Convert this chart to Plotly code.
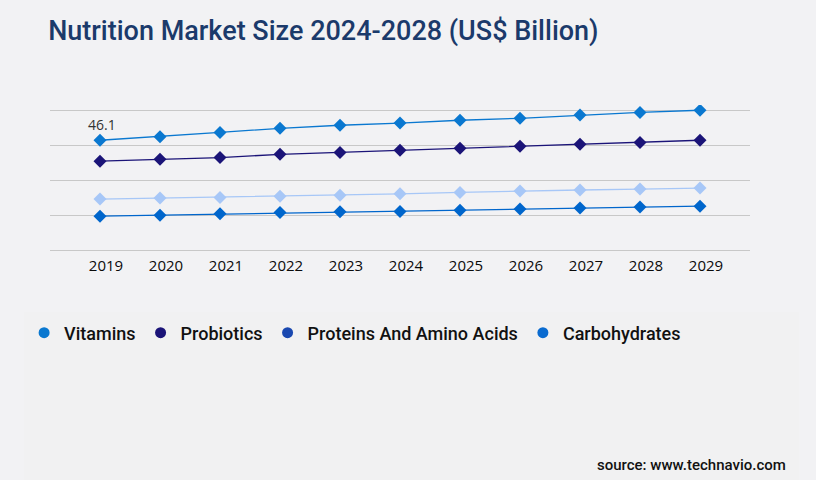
import plotly.graph_objects as go

# data
years = ["2019", "2020", "2021", "2022", "2023", "2024", "2025", "2026", "2027", "2028", "2029"]
vitamins = [46.1, 47.6, 49.4, 51.1, 52.4, 53.3, 54.5, 55.3, 56.7, 57.8, 58.7]
probiotics = [37.3, 38.1, 38.8, 40.2, 41.0, 41.9, 42.7, 43.6, 44.4, 45.2, 46.1]
proteins = [21.4, 21.8, 22.1, 22.6, 23.0, 23.6, 24.2, 24.8, 25.2, 25.6, 26.0]
carbohydrates = [14.2, 14.6, 15.2, 15.7, 16.1, 16.2, 16.7, 17.2, 17.6, 18.1, 18.4]
grid_vals = [0, 14.7, 29.4, 44.1, 58.8]

series = [
    ("Vitamins", vitamins, "#0a78d0", "#0a78d0"),
    ("Probiotics", probiotics, "#1b1478", "#1b1478"),
    ("Proteins And Amino Acids", proteins, "#a7c7f7", "#1a48b0"),
    ("Carbohydrates", carbohydrates, "#0066cc", "#0a6bd0"),
]

fig = go.Figure()

for name, vals, col, legcol in series:
    fig.add_trace(go.Scatter(
        x=years, y=vals, mode="lines+markers", name=name,
        line=dict(color=col, width=1.3),
        marker=dict(symbol="diamond", size=10, color=col),
        showlegend=False,
    ))

# legend-only entries (round markers as in the reference)
for name, vals, col, legcol in series:
    fig.add_trace(go.Scatter(
        x=[None], y=[None], mode="markers", name=name,
        marker=dict(symbol="circle", size=11, color=legcol),
    ))

# label on the first vitamins point (category index 0)
fig.add_annotation(x=0, y=vitamins[0], text=f"{vitamins[0]}", showarrow=False,
                   yshift=16, xshift=2, font=dict(family="Open Sans", size=14, color="#333333"))

fig.add_annotation(text="source: www.technavio.com", xref="paper", yref="paper", x=1.054, y=-1.4,
                   xanchor="right", yanchor="middle", showarrow=False,
                   font=dict(family="Roboto", size=15, color="#111111", weight=500))

fig.add_shape(type="rect", xref="paper", yref="paper", x0=-0.037, x1=1.07, y0=-1.7, y1=-0.38,
              fillcolor="#f1f1f2", line=dict(width=0), layer="below")

fig.update_xaxes(
    type="category", range=[-0.833, 10.833], showgrid=False, zeroline=False,
    showline=False, ticks="", ticklabelstandoff=0, ticklabelshift=6,
    tickfont=dict(family="Open Sans", size=15, color="#0a0a0a", weight=500),
)
fig.update_yaxes(
    range=[-2.1, 60.9], tickvals=grid_vals, showticklabels=False,
    showgrid=True, gridcolor="#c8c8c8", gridwidth=1,
    zeroline=True, zerolinecolor="#c8c8c8", zerolinewidth=1, showline=False,
)

fig.update_layout(
    width=816, height=480,
    paper_bgcolor="#f2f2f4", plot_bgcolor="#f2f2f4",
    margin=dict(l=50, r=66, t=105, b=225),
    title=dict(text="Nutrition Market Size 2024-2028 (US$ Billion)", x=0.059, xanchor="left",
               y=0.937, yanchor="middle",
               font=dict(family="Roboto", size=27, color="#1b3a6b", weight=500)),
    legend=dict(orientation="h", x=-0.037, xanchor="left", y=-0.52, yanchor="middle",
                font=dict(family="Roboto", size=18, color="#111111", weight=500),
                itemwidth=30, bgcolor="rgba(0,0,0,0)", tracegroupgap=0),
)

fig.write_html("out.html", config={"displayModeBar": False},
               post_script="document.body.style.margin='0';")
